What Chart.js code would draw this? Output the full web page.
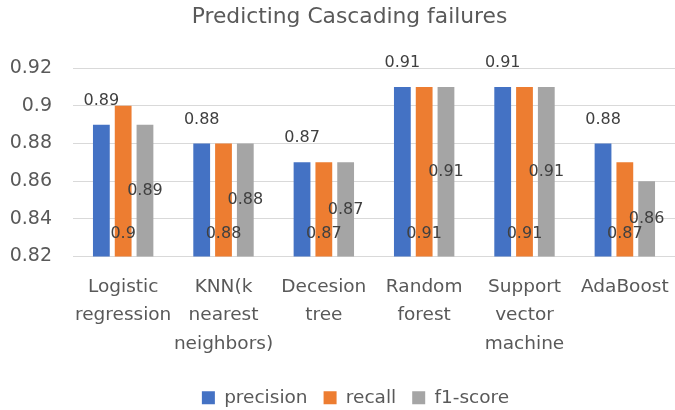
<!DOCTYPE html>
<html>
<head>
<meta charset="utf-8">
<script src="https://cdn.jsdelivr.net/npm/chart.js@4"></script>
<style>
  html, body { margin: 0; padding: 0; background: #fff; }
  #wrap { width: 675px; height: 410px; }
</style>
</head>
<body>
<div id="wrap"><canvas id="chart"></canvas></div>
<script>
// --- data ---
const categories = [
    ['Logistic', 'regression'],
    ['KNN(k', 'nearest', 'neighbors)'],
    ['Decesion', 'tree'],
    ['Random', 'forest'],
    ['Support', 'vector', 'machine'],
    ['AdaBoost']
];
const precision = [0.89, 0.88, 0.87, 0.91, 0.91, 0.88];
const recall = [0.90, 0.88, 0.87, 0.91, 0.91, 0.87];
const f1Score = [0.89, 0.88, 0.87, 0.91, 0.91, 0.86];
const yTicks = [0.82, 0.84, 0.86, 0.88, 0.90, 0.92];

const FONT = "'DejaVu Sans', sans-serif";
const textColor = '#595959';

// value labels like the Excel chart: outside end / inside base / center
const valueLabels = {
    id: 'valueLabels',
    afterDatasetsDraw(chart) {
        const ctx = chart.ctx;
        const base = chart.scales.y.getPixelForValue(yTicks[0]);
        ctx.save();
        ctx.font = '16px ' + FONT;
        ctx.fillStyle = '#404040';
        ctx.textAlign = 'center';
        ctx.textBaseline = 'middle';
        chart.data.datasets.forEach((ds, i) => {
            const meta = chart.getDatasetMeta(i);
            meta.data.forEach((bar, j) => {
                const txt = String(+ds.data[j].toFixed(2));
                let y;
                if (i === 0) y = bar.y - 24;
                else if (i === 1) y = base - 23;
                else y = (bar.y + base) / 2;
                ctx.fillText(txt, bar.x, y);
            });
        });
        ctx.restore();
    }
};

// Excel puts the title and legend a bit right of centre
const blockShift = {
    id: 'blockShift',
    afterLayout(chart) {
        chart.legend.left += 15;
        chart.legend.right += 15;
        chart.titleBlock.left += 9;
        chart.titleBlock.right += 9;
    }
};

new Chart(document.getElementById('chart'), {
    type: 'bar',
    data: {
        labels: categories,
        datasets: [
            { label: 'precision', data: precision, backgroundColor: '#4472C4' },
            { label: 'recall', data: recall, backgroundColor: '#ED7D31' },
            { label: 'f1-score', data: f1Score, backgroundColor: '#A5A5A5' }
        ]
    },
    options: {
        responsive: true,
        maintainAspectRatio: false,
        animation: false,
        datasets: { bar: { barPercentage: 0.77, categoryPercentage: 0.652 } },
        layout: { padding: { left: 0, right: -6, top: 0, bottom: -7 } },
        plugins: {
            title: {
                display: true,
                text: 'Predicting Cascading failures',
                color: textColor,
                font: { family: FONT, size: 21.8, weight: 'normal' },
                padding: { top: 4, bottom: 38 }
            },
            legend: {
                position: 'bottom',
                labels: {
                    color: textColor,
                    font: { family: FONT, size: 18.5 },
                    boxWidth: 13,
                    boxHeight: 13,
                    padding: 16
                }
            },
            tooltip: { enabled: false }
        },
        scales: {
            x: {
                grid: { display: false },
                border: { color: '#d9d9d9' },
                afterFit: axis => {
                    axis.height = 116;
                    axis.paddingRight = -6; // plot runs past the right edge, as in the picture
                },
                ticks: {
                    color: textColor,
                    font: { family: FONT, size: 18.5, lineHeight: 1.54 },
                    padding: 8,
                    maxRotation: 0,
                    autoSkip: false
                }
            },
            y: {
                min: yTicks[0],
                max: yTicks[yTicks.length - 1],
                afterBuildTicks: axis => { axis.ticks = yTicks.map(v => ({ value: v })); },
                afterFit: axis => { axis.width = 73; },
                grid: { color: '#d9d9d9', drawTicks: false },
                border: { display: false },
                ticks: {
                    color: textColor,
                    font: { family: FONT, size: 19 },
                    padding: 21,
                    callback: v => String(+v.toFixed(2))
                }
            }
        }
    },
    plugins: [valueLabels, blockShift]
});
</script>
</body>
</html>
